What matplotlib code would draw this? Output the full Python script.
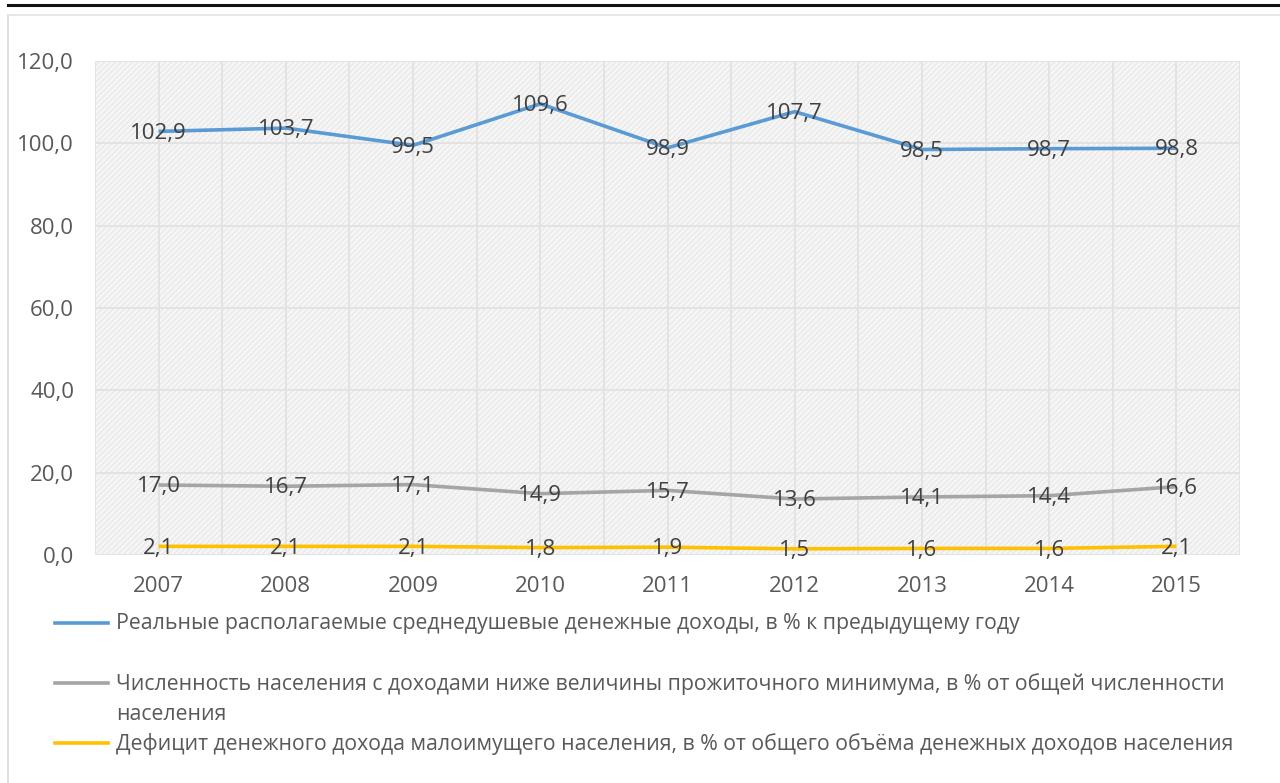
import matplotlib
matplotlib.use("Agg")
import matplotlib.pyplot as plt
from matplotlib.lines import Line2D
from matplotlib.patches import Rectangle
from matplotlib.ticker import FixedLocator, FuncFormatter

plt.rcParams['font.family'] = ['Open Sans', 'DejaVu Sans']

years = ['2007', '2008', '2009', '2010', '2011', '2012', '2013', '2014', '2015']
income_real = [102.9, 103.7, 99.5, 109.6, 98.9, 107.7, 98.5, 98.7, 98.8]
below_min = [17.0, 16.7, 17.1, 14.9, 15.7, 13.6, 14.1, 14.4, 16.6]
deficit = [2.1, 2.1, 2.1, 1.8, 1.9, 1.5, 1.6, 1.6, 2.1]

labels = [
    'Реальные располагаемые среднедушевые денежные доходы, в % к предыдущему году',
    'Численность населения с доходами ниже величины прожиточного минимума, в % от общей численности\nнаселения',
    'Дефицит денежного дохода малоимущего населения, в % от общего объёма денежных доходов населения',
]
colors = ['#5B9BD5', '#A5A5A5', '#FFC000']
series = [income_real, below_min, deficit]

W, H = 1280, 783
fig = plt.figure(figsize=(W / 100, H / 100), dpi=100)
fig.patch.set_facecolor('white')

# top black rule and chart frame
fig.add_artist(Line2D([8 / W, 1], [1 - 5 / H, 1 - 5 / H], color='#111111', lw=2.2))
fig.add_artist(Line2D([8 / W, 8 / W], [0, 1 - 15 / H], color='#d9d9d9', lw=1.2))
fig.add_artist(Line2D([8 / W, 1], [1 - 15 / H, 1 - 15 / H], color='#e3e3e3', lw=1.2))

ax = fig.add_axes([95 / W, 1 - 555 / H, (1240 - 95) / W, (555 - 61) / H])
ax.patch.set_facecolor('#f6f6f6')
bg = Rectangle((0, 0), 1, 1, transform=ax.transAxes, facecolor='none',
               edgecolor='#e9e9e9', hatch='//////', lw=0, zorder=0)
ax.add_patch(bg)

x = list(range(len(years)))
lines = []
for s, c in zip(series, colors):
    ln, = ax.plot(x, s, color=c, lw=2.6, solid_capstyle='butt', zorder=3)
    lines.append(ln)
    for xi, v in zip(x, s):
        ax.annotate(f'{v:.1f}'.replace('.', ','), (xi, v), xytext=(0, -1.2),
                    textcoords='offset points', ha='center', va='center',
                    fontsize=16, color='#404040', zorder=4)

ax.set_xlim(-0.5, len(years) - 0.5)
ax.set_ylim(0, 120)
ax.set_yticks([0, 20, 40, 60, 80, 100, 120])
ax.yaxis.set_major_formatter(FuncFormatter(lambda v, p: f'{v:.1f}'.replace('.', ',')))
ax.set_xticks(x)
ax.set_xticklabels(years)
ax.xaxis.set_minor_locator(FixedLocator([i - 0.5 for i in range(len(years) + 1)]))
ax.grid(True, which='major', color='#e2e2e2', lw=1.3, zorder=1)
ax.grid(True, which='minor', axis='x', color='#e2e2e2', lw=1.3, zorder=1)
ax.set_axisbelow(True)
for sp in ax.spines.values():
    sp.set_visible(False)
ax.tick_params(axis='both', which='both', length=0, colors='#595959', labelsize=16)
ax.tick_params(axis='x', pad=15)
ax.tick_params(axis='y', pad=15)

# legend drawn manually
leg_y = [623, 683, 743]
for ln, lab, yy in zip(lines, labels, leg_y):
    fig.add_artist(Line2D([55 / W, 108 / W], [1 - yy / H, 1 - yy / H],
                          color=ln.get_color(), lw=2.6))
    fig.text(116 / W, 1 - (yy - 10) / H, lab, ha='left', va='top', fontsize=15.3,
             color='#595959', linespacing=1.55)

fig.savefig('out.png', dpi=100)
